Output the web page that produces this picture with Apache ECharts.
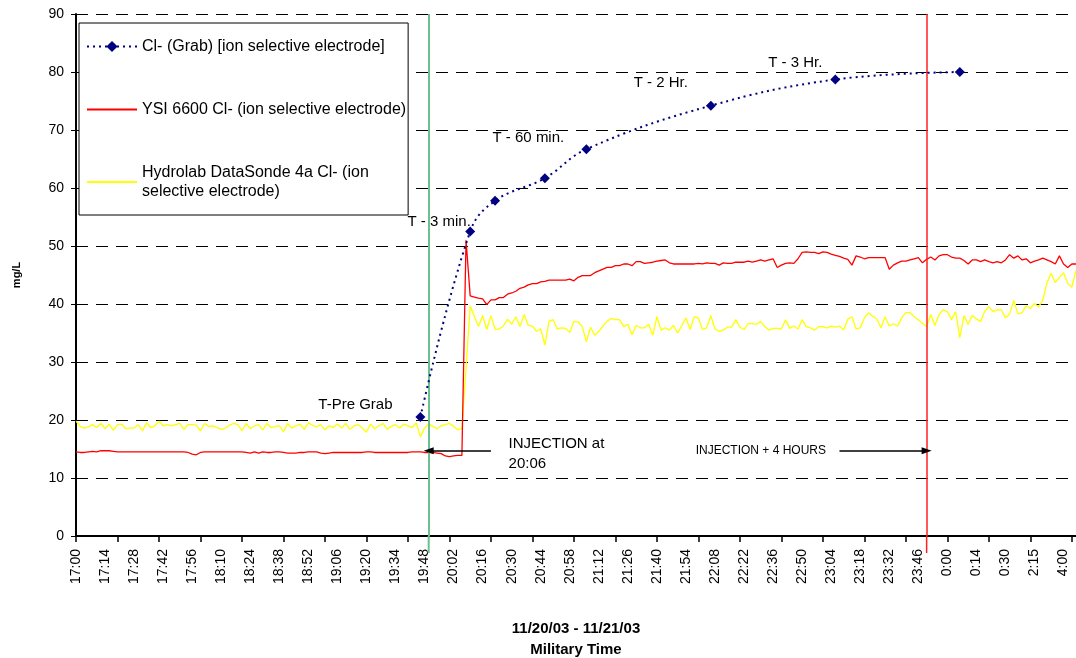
<!DOCTYPE html>
<html>
<head>
<meta charset="utf-8">
<script src="https://cdn.jsdelivr.net/npm/echarts@6/dist/echarts.min.js"></script>
<style>
  html, body { margin: 0; padding: 0; background: #fff; }
  #main { width: 1076px; height: 658px; }
</style>
</head>
<body>
<div id="main"></div>
<script>
var tickLabels = ['17:00','17:14','17:28','17:42','17:56','18:10','18:24','18:38','18:52','19:06',
  '19:20','19:34','19:48','20:02','20:16','20:30','20:44','20:58','21:12','21:26','21:40','21:54',
  '22:08','22:22','22:36','22:50','23:04','23:18','23:32','23:46','0:00','0:14','0:30','2:15','4:00'];

var seriesNames = [
  'Cl- (Grab) [ion selective electrode]',
  'YSI 6600 Cl- (ion selective electrode)',
  'Hydrolab DataSonde 4a Cl- (ion selective electrode)'
];

// grab samples: category index, value, note
var grabIdx = [83, 95, 101, 113, 123, 153, 183, 213];
var grabVals = [20.5, 52.5, 57.8, 61.7, 66.7, 74.2, 78.7, 80.0];
var grabNotes = ['T-Pre Grab', 'T - 3 min.', '', '', 'T - 60 min.', 'T - 2 Hr.', 'T - 3 Hr.', ''];

var ysiVals = [
  14.5, 14.4, 14.4, 14.5, 14.6, 14.5, 14.7, 14.7, 14.7, 14.6,
  14.5, 14.5, 14.5, 14.5, 14.5, 14.5, 14.5, 14.5, 14.5, 14.5,
  14.5, 14.5, 14.5, 14.5, 14.5, 14.5, 14.5, 14.4, 14.1, 14.0,
  14.4, 14.5, 14.5, 14.5, 14.5, 14.5, 14.5, 14.5, 14.5, 14.5,
  14.5, 14.4, 14.3, 14.5, 14.3, 14.5, 14.4, 14.4, 14.5, 14.5,
  14.4, 14.3, 14.3, 14.3, 14.4, 14.4, 14.5, 14.5, 14.5, 14.3,
  14.2, 14.3, 14.4, 14.4, 14.4, 14.4, 14.4, 14.4, 14.4, 14.4,
  14.5, 14.5, 14.4, 14.4, 14.4, 14.4, 14.4, 14.4, 14.4, 14.4,
  14.4, 14.5, 14.5, 14.5, 14.4, 14.4, 14.4, 14.3, 14.2, 13.8,
  13.7, 13.8, 13.9, 13.9,
  51.0, 41.4,
  41.2, 41.0, 40.9, 39.9, 40.7, 40.7, 41.1, 41.1, 41.7, 41.9,
  42.2, 42.7, 42.9, 43.3, 43.5, 43.5, 43.8, 43.9, 44.1, 44.1,
  44.1, 44.1, 44.1, 44.3, 44.0, 44.6, 44.9, 44.9, 44.9, 45.4,
  45.7, 46.0, 46.3, 46.3, 46.6, 46.6, 46.9, 46.9, 46.6, 47.3,
  47.3, 47.0, 47.1, 47.2, 47.4, 47.5, 47.6, 47.1, 46.9, 46.9,
  46.9, 46.9, 46.9, 46.9, 47.0, 46.9, 47.1, 47.0, 47.0, 46.7,
  47.1, 47.0, 47.0, 47.2, 47.2, 47.2, 47.4, 47.2, 47.4, 47.6,
  47.4, 47.6, 47.8, 46.3, 46.7, 47.0, 47.1, 47.0, 47.8, 48.9,
  49.0, 48.9, 48.9, 48.7, 49.0, 48.9, 48.6, 48.4, 48.2, 47.9,
  47.7, 46.7, 48.3, 48.1, 47.8, 48.0, 48.0, 48.0, 48.0, 48.0,
  46.0, 46.7, 47.1, 47.4, 47.4, 47.6, 47.8, 48.0, 47.1, 47.7,
  48.1, 47.6, 48.3, 48.5, 48.5, 48.1, 47.9, 47.9, 47.5, 46.9,
  47.6, 47.6, 47.3, 47.6, 47.3, 47.1, 47.3, 47.1, 47.6, 48.5,
  47.9, 48.3, 47.6, 47.8, 47.1, 47.4, 47.6, 47.9, 47.6, 47.3,
  46.9, 48.3, 46.9, 46.3, 46.9, 46.9
];

var hydrolabVals = [
  19.8, 18.9, 18.6, 18.8, 19.2, 18.7, 19.4, 18.5, 19.3, 18.2,
  19.2, 19.3, 18.5, 18.6, 18.6, 19.2, 18.1, 19.5, 18.7, 19.0,
  19.8, 19.0, 19.2, 19.0, 19.2, 19.4, 18.4, 19.2, 19.2, 19.1,
  18.1, 19.4, 18.9, 19.0, 18.7, 18.4, 18.6, 19.1, 19.4, 19.2,
  18.1, 19.4, 18.5, 19.0, 19.2, 18.3, 19.4, 18.7, 18.9, 19.0,
  18.0, 19.4, 18.6, 19.0, 19.3, 18.4, 19.5, 19.1, 18.8, 19.2,
  18.3, 19.0, 18.7, 19.3, 18.6, 19.4, 18.4, 19.0, 19.2, 18.6,
  17.9, 19.3, 18.5, 19.0, 19.4, 18.4, 18.9, 19.2, 18.6, 19.3,
  19.0, 18.7, 19.5, 17.1, 18.6, 19.3, 18.9, 18.5, 19.0, 19.2,
  19.4, 18.9, 18.3, 18.5,
  29.0, 39.7,
  37.9, 36.1, 38.0, 35.6, 38.0, 35.6, 35.7, 36.2, 37.4, 36.5,
  37.8, 36.1, 38.2, 36.3, 36.2, 35.3, 35.7, 32.9, 37.0, 37.3,
  35.7, 35.9, 35.8, 35.1, 37.0, 36.9, 36.1, 33.5, 36.0, 34.6,
  35.3, 36.2, 37.0, 37.5, 37.3, 37.3, 36.1, 36.5, 34.7, 36.3,
  35.9, 35.9, 36.5, 34.6, 37.8, 35.5, 35.9, 35.5, 36.3, 35.0,
  36.3, 37.6, 35.6, 37.8, 37.6, 35.6, 35.9, 38.0, 35.7, 35.3,
  35.5, 36.0, 36.0, 37.3, 36.0, 35.6, 36.6, 36.6, 36.5, 37.0,
  36.1, 35.5, 35.8, 35.8, 35.7, 37.3, 35.8, 36.2, 35.7, 37.3,
  36.1, 35.9, 35.5, 36.1, 36.1, 35.9, 36.2, 36.0, 36.2, 35.5,
  37.4, 37.8, 35.7, 35.9, 37.6, 38.5, 37.9, 37.4, 35.9, 37.8,
  36.2, 36.6, 36.2, 37.6, 38.5, 38.5, 37.8, 37.3, 36.7, 36.1,
  38.2, 36.3, 38.2, 39.0, 38.7, 37.3, 38.7, 34.2, 38.0, 36.5,
  38.0, 37.4, 37.0, 38.7, 39.5, 38.7, 39.0, 39.0, 37.6, 38.3,
  40.6, 38.3, 38.5, 39.7, 39.2, 40.1, 39.5, 40.7, 43.6, 45.3,
  43.7, 44.6, 45.4, 43.6, 42.9, 45.8
];

// annotations (category index / value)
var injectionIdx = 85;
var plus4hIdx = 205;
var arrowLevel = 14.7;
var injArrowFrom = 100;
var plus4hArrowFrom = 184;

var FONT = '"Liberation Sans", Arial, sans-serif';
var LABEL_STEP = 7;
var GREEN = '#6CBF8E';
var RED_MARK = '#FF2020';

var categories = [];
for (var i = 0; i < ysiVals.length; i++) categories.push(String(i));

var noteOffsets = {
  'T-Pre Grab': [-65, -12],
  'T - 3 min.': [-31, -10],
  'T - 60 min.': [-58, -11],
  'T - 2 Hr.': [-50, -23],
  'T - 3 Hr.': [-40, -17]
};

var grabData = grabIdx.map(function (idx, k) {
  var note = grabNotes[k];
  var item = { value: [idx, grabVals[k]] };
  if (note) {
    item.label = {
      show: true, formatter: note, position: 'inside',
      offset: noteOffsets[note], color: '#000', fontSize: 15, fontFamily: FONT
    };
  }
  return item;
});

var noIcon = { color: 'rgba(0,0,0,0)', borderWidth: 0 };

var chart = echarts.init(document.getElementById('main'));

var option = {
  animation: false,
  backgroundColor: '#fff',
  textStyle: { fontFamily: FONT },
  grid: { left: 76, right: 0, top: 14, bottom: 122, outerBoundsMode: 'none', containLabel: false },
  legend: {
    orient: 'vertical',
    left: 79, top: 23,
    padding: [14, 2, 14, 7],
    itemGap: 44, itemWidth: 50, itemHeight: 14,
    borderColor: '#000', borderWidth: 1,
    backgroundColor: '#fff',
    textStyle: { fontFamily: FONT, fontSize: 16, color: '#000', lineHeight: 19 },
    data: [
      { name: seriesNames[0] },
      { name: seriesNames[1], itemStyle: noIcon },
      { name: seriesNames[2], itemStyle: noIcon }
    ],
    formatter: function (n) {
      return n === seriesNames[2] ? 'Hydrolab DataSonde 4a Cl- (ion\nselective electrode)' : n;
    }
  },
  xAxis: {
    type: 'category',
    data: categories,
    boundaryGap: false,
    name: '11/20/03 - 11/21/03\nMilitary Time',
    nameLocation: 'middle',
    nameGap: 82,
    nameTextStyle: { fontFamily: FONT, fontSize: 15, fontWeight: 'bold', color: '#000', lineHeight: 21 },
    axisLine: { lineStyle: { color: '#000', width: 2 } },
    axisTick: { interval: 9, length: 6, lineStyle: { color: '#000', width: 1.5 } },
    axisLabel: {
      interval: LABEL_STEP - 1, rotate: 90, margin: 13,
      fontSize: 14, color: '#000', fontFamily: FONT,
      formatter: function (v, i) { return i % LABEL_STEP === 0 ? tickLabels[i / LABEL_STEP] : ''; }
    },
    splitLine: { show: false }
  },
  yAxis: {
    type: 'value',
    min: 0, max: 90, interval: 10,
    name: 'mg/L',
    nameLocation: 'middle',
    nameGap: 54,
    nameTextStyle: { fontFamily: FONT, fontSize: 11, fontWeight: 'bold', color: '#000' },
    axisLine: { show: true, lineStyle: { color: '#000', width: 2 } },
    axisTick: { show: true, length: 5, lineStyle: { color: '#000' } },
    axisLabel: { fontSize: 14, color: '#000', margin: 12, fontFamily: FONT },
    splitLine: { lineStyle: { color: '#000', width: 1, type: [12, 8] } }
  },
  series: [
    {
      name: seriesNames[0],
      type: 'line',
      data: grabData,
      smooth: 0.4,
      symbol: 'diamond',
      symbolSize: 10,
      showAllSymbol: true,
      itemStyle: { color: '#000080' },
      lineStyle: { color: '#000080', width: 2, type: [2, 4] },
      z: 5
    },
    {
      name: seriesNames[1],
      type: 'line',
      data: ysiVals,
      symbol: 'none',
      itemStyle: { color: '#FF0000' },
      lineStyle: { color: '#FF0000', width: 1.3 },
      z: 3,
      markLine: {
        silent: true,
        symbol: 'none',
        label: { show: false },
        data: [
          { xAxis: injectionIdx, lineStyle: { color: GREEN, width: 2, type: 'solid' } },
          { xAxis: plus4hIdx, lineStyle: { color: RED_MARK, width: 1.5, type: 'solid' } },
          [
            { coord: [injArrowFrom, arrowLevel], symbol: 'none' },
            { coord: [injectionIdx, arrowLevel], symbol: 'triangle', symbolSize: [7, 10] }
          ],
          [
            { coord: [plus4hArrowFrom, arrowLevel], symbol: 'none' },
            { coord: [plus4hIdx, arrowLevel], symbol: 'triangle', symbolSize: [7, 10] }
          ]
        ],
        lineStyle: { color: '#000', width: 1.5, type: 'solid' }
      },
      markPoint: {
        silent: true,
        symbol: 'rect',
        symbolSize: 0,
        data: [
          {
            coord: [injArrowFrom + 4, arrowLevel],
            label: {
              show: true, position: 'right', distance: 1, offset: [0, 3],
              formatter: 'INJECTION at\n20:06', color: '#000',
              fontSize: 15, lineHeight: 20, fontFamily: FONT, align: 'left'
            }
          },
          {
            coord: [plus4hArrowFrom - 3, arrowLevel],
            label: {
              show: true, position: 'left', distance: 1,
              formatter: 'INJECTION + 4 HOURS', color: '#000',
              fontSize: 12, fontFamily: FONT
            }
          }
        ]
      }
    },
    {
      name: seriesNames[2],
      type: 'line',
      data: hydrolabVals,
      symbol: 'none',
      itemStyle: { color: '#FFFF00' },
      lineStyle: { color: '#FFFF00', width: 1.3 },
      z: 2
    }
  ]
};

chart.setOption(option);

// the two marker lines run a little past the category axis, as drawn in the original
var yBase = chart.convertToPixel({ yAxisIndex: 0 }, 0);
var tails = [[injectionIdx, GREEN, 2], [plus4hIdx, RED_MARK, 1.5]].map(function (m) {
  var x = chart.convertToPixel({ xAxisIndex: 0 }, m[0]);
  return {
    type: 'line', silent: true, z: 10,
    shape: { x1: x, y1: yBase, x2: x, y2: yBase + 17 },
    style: { stroke: m[1], lineWidth: m[2] }
  };
});
chart.setOption({ graphic: tails });
</script>
</body>
</html>
